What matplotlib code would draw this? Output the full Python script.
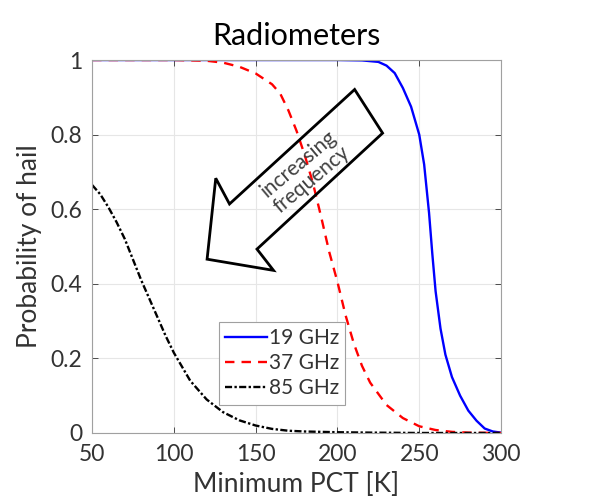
import matplotlib.pyplot as plt
from matplotlib.patches import Polygon

plt.rcParams['font.family'] = ['Lato', 'DejaVu Sans']

# values
x_19 = [50, 100, 150, 200, 215, 225, 230, 235, 240, 245, 250, 253, 256, 258, 260,
        263, 266, 270, 275, 280, 285, 290, 295, 300]
p_19 = [1, 1, 1, 1, 0.999, 0.995, 0.985, 0.965, 0.925, 0.875, 0.80, 0.72, 0.59, 0.48, 0.38,
        0.28, 0.21, 0.15, 0.10, 0.06, 0.033, 0.012, 0.004, 0.001]

x_37 = [50, 100, 120, 130, 140, 150, 160, 165, 170, 175, 180, 185, 190, 195, 200,
        205, 210, 215, 220, 225, 230, 240, 250, 260, 270, 280, 300]
p_37 = [1, 1, 0.998, 0.993, 0.982, 0.964, 0.935, 0.91, 0.865, 0.81, 0.745, 0.67, 0.58, 0.485, 0.405,
        0.315, 0.24, 0.18, 0.135, 0.105, 0.075, 0.04, 0.018, 0.008, 0.003, 0.001, 0]

x_85 = [50, 55, 60, 65, 70, 75, 80, 85, 90, 95, 100, 110, 120, 130, 140, 150,
        160, 170, 180, 200, 220, 250, 300]
p_85 = [0.665, 0.64, 0.605, 0.565, 0.52, 0.465, 0.41, 0.36, 0.31, 0.26, 0.215,
        0.14, 0.09, 0.056, 0.034, 0.02, 0.011, 0.006, 0.004, 0.002, 0.001, 0, 0]

# arrow outline (data coords)
arrow_x = [210.5, 227.6, 150.8, 160.9, 120.3, 125.6, 134.0]
arrow_y = [0.921, 0.804, 0.493, 0.436, 0.466, 0.683, 0.614]

xticks = [50, 100, 150, 200, 250, 300]
yticks = [0, 0.2, 0.4, 0.6, 0.8, 1]
ytick_labels = ["0", "0.2", "0.4", "0.6", "0.8", "1"]

txt = "#333333"
fig = plt.figure(figsize=(6.14, 5.04), dpi=100)
ax = fig.add_axes([0.150, 0.1409, 0.666, 0.740])

ax.plot(x_19, p_19, color="#0000ff", lw=1.7, label="19 GHz")
ax.plot(x_37, p_37, color="#ff0000", lw=1.7, ls=(0, (4, 3)), label="37 GHz")
ax.plot(x_85, p_85, color="black", lw=1.7, ls=(0, (3, 1, 1, 1)), label="85 GHz")

ax.add_patch(Polygon(list(zip(arrow_x, arrow_y)), closed=True, fill=False,
                     edgecolor="black", lw=2, zorder=5))
ax.text(180, 0.70, "increasing\nfrequency", rotation=40, ha="center", va="center",
        fontsize=15, color="#404040", linespacing=1.0, zorder=6,
        rotation_mode="anchor")

ax.set_xlim(50, 300)
ax.set_ylim(0, 1)
ax.set_xticks(xticks)
ax.set_yticks(yticks)
ax.set_yticklabels(ytick_labels)
ax.tick_params(direction="in", top=True, right=True, labelsize=16.5, colors=txt,
               length=4, width=0.6)
ax.tick_params(axis="x", pad=8)
ax.tick_params(axis="y", pad=7)
for s in ax.spines.values():
    s.set_color("#a0a0a0")
    s.set_linewidth(0.8)
ax.grid(True, color="#e6e6e6", lw=0.8)
ax.set_axisbelow(True)

ax.set_title("Radiometers", fontsize=22, color="black", pad=11)
ax.set_xlabel("Minimum PCT [K]", fontsize=19, color=txt, labelpad=5)
ax.set_ylabel("Probability of hail", fontsize=19, color=txt, labelpad=6)

leg = ax.legend(loc="lower left", bbox_to_anchor=(0.31, 0.076), fontsize=15,
                handlelength=2.0, handletextpad=0.1, borderpad=0.3,
                labelspacing=0.25, borderaxespad=0, fancybox=False, framealpha=1)
leg.get_frame().set_edgecolor("#a0a0a0")
leg.get_frame().set_linewidth(0.8)
for t in leg.get_texts():
    t.set_color(txt)

fig.savefig("out.png", dpi=100)
